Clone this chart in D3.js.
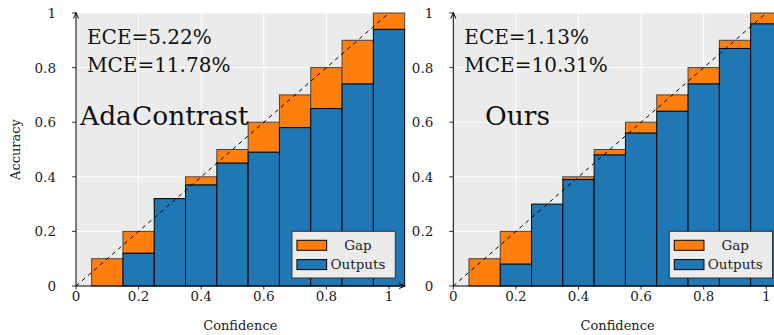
<!DOCTYPE html>
<html>
<head>
<meta charset="utf-8">
<script src="https://cdn.jsdelivr.net/npm/d3@7"></script>
<style>
  body { margin: 0; background: #fff; }
  svg { display: block; font-family: "DejaVu Serif", serif; }
</style>
</head>
<body>
<svg id="chart" width="774" height="335"></svg>
<script>
// Bin centres (expected accuracy) and observed accuracy per bin
const binCenters = [0.1, 0.2, 0.3, 0.4, 0.5, 0.6, 0.7, 0.8, 0.9, 1.0];
const adaOutputs = [0, 0.12, 0.32, 0.37, 0.45, 0.49, 0.58, 0.65, 0.74, 0.94];
const oursOutputs = [0, 0.08, 0.30, 0.39, 0.48, 0.56, 0.64, 0.74, 0.87, 0.96];
const xTicks = [0, 0.2, 0.4, 0.6, 0.8, 1];
const yTicks = [0, 0.2, 0.4, 0.6, 0.8, 1];
const legendLabels = ["Gap", "Outputs"];

const panels = [
  { name: "AdaContrast", outputs: adaOutputs, ece: "ECE=5.22%", mce: "MCE=11.78%", left: 76, nameX: 80 },
  { name: "Ours", outputs: oursOutputs, ece: "ECE=1.13%", mce: "MCE=10.31%", left: 453.3, nameX: 485 }
];

const unit = 313;
const binWidth = 0.1;
const orange = "#ff7f0e";
const blue = "#1f77b4";

const svg = d3.select("#chart");

const defs = svg.append("defs");
defs.append("marker")
  .attr("id", "arrow")
  .attr("viewBox", "0 0 8 8")
  .attr("refX", 7).attr("refY", 4)
  .attr("markerWidth", 8).attr("markerHeight", 8)
  .attr("markerUnits", "userSpaceOnUse")
  .attr("orient", "auto")
  .append("path")
  .attr("d", "M1,1.5 L7,4 L1,6.5")
  .attr("fill", "none")
  .attr("stroke", "#000")
  .attr("stroke-width", 1);

panels.forEach((p, i) => {
  const x = d3.scaleLinear().domain([0, 1.05]).range([p.left, p.left + 1.05 * unit]);
  const y = d3.scaleLinear().domain([0, 1]).range([286, 13]);
  const g = svg.append("g");

  // background
  g.append("rect")
    .attr("x", x(0)).attr("y", y(1))
    .attr("width", x(1.05) - x(0)).attr("height", y(0) - y(1))
    .attr("fill", "#ebebeb");

  // grid
  g.selectAll(".gx").data(xTicks.slice(1)).enter().append("line")
    .attr("x1", d => x(d)).attr("x2", d => x(d))
    .attr("y1", y(0)).attr("y2", y(1))
    .attr("stroke", "#fff").attr("stroke-width", 1);
  g.selectAll(".gy").data(yTicks.slice(1)).enter().append("line")
    .attr("x1", x(0)).attr("x2", x(1.05))
    .attr("y1", d => y(d)).attr("y2", d => y(d))
    .attr("stroke", "#fff").attr("stroke-width", 1);

  // gap bars
  g.selectAll(".gap").data(binCenters).enter().append("rect")
    .attr("x", d => x(d - binWidth / 2))
    .attr("width", x(binWidth) - x(0))
    .attr("y", (d, j) => y(Math.max(d, p.outputs[j])))
    .attr("height", (d, j) => Math.abs(y(p.outputs[j]) - y(d)))
    .attr("fill", orange)
    .attr("stroke", "#444").attr("stroke-width", 1);

  // output bars
  g.selectAll(".out").data(binCenters).enter().append("rect")
    .attr("x", d => x(d - binWidth / 2))
    .attr("width", x(binWidth) - x(0))
    .attr("y", (d, j) => y(p.outputs[j]))
    .attr("height", (d, j) => y(0) - y(p.outputs[j]))
    .attr("fill", blue)
    .attr("stroke", "#000").attr("stroke-width", 1);

  // diagonal
  g.append("line")
    .attr("x1", x(0)).attr("y1", y(0))
    .attr("x2", x(1)).attr("y2", y(1))
    .attr("stroke", "#000").attr("stroke-width", 1)
    .attr("stroke-dasharray", "4,4");

  // axes
  g.append("line")
    .attr("x1", x(0)).attr("y1", y(0)).attr("x2", x(0)).attr("y2", y(1) - 0.5)
    .attr("stroke", "#000").attr("stroke-width", 1)
    .attr("marker-end", "url(#arrow)");
  g.append("line")
    .attr("x1", x(0)).attr("y1", y(0)).attr("x2", x(1.05) + 0.5).attr("y2", y(0))
    .attr("stroke", "#000").attr("stroke-width", 1)
    .attr("marker-end", "url(#arrow)");

  // ticks and labels
  g.selectAll(".tx").data(xTicks).enter().append("line")
    .attr("x1", d => x(d)).attr("x2", d => x(d))
    .attr("y1", y(0)).attr("y2", y(0) + 3.5)
    .attr("stroke", "#000").attr("stroke-width", 0.8);
  g.selectAll(".lx").data(xTicks).enter().append("text")
    .attr("x", d => x(d)).attr("y", 301)
    .attr("text-anchor", "middle")
    .attr("font-size", 13.5).attr("fill", "#222")
    .text(d => d3.format("~g")(d));

  g.selectAll(".ty").data(yTicks).enter().append("line")
    .attr("x1", x(0) - 4).attr("x2", x(0))
    .attr("y1", d => y(d)).attr("y2", d => y(d))
    .attr("stroke", "#000").attr("stroke-width", 0.8);
  g.selectAll(".ly").data(yTicks).enter().append("text")
    .attr("x", x(0) - 20).attr("y", d => y(d) + 5)
    .attr("text-anchor", "end")
    .attr("font-size", 13.5).attr("fill", "#222")
    .text(d => d3.format("~g")(d));

  g.append("text")
    .attr("x", x(0.525)).attr("y", 330)
    .attr("text-anchor", "middle")
    .attr("font-size", 13).attr("fill", "#222")
    .text("Confidence");

  if (i === 0) {
    g.append("text")
      .attr("transform", `translate(20, ${(y(0) + y(1)) / 2}) rotate(-90)`)
      .attr("text-anchor", "middle")
      .attr("font-size", 13).attr("fill", "#222")
      .text("Accuracy");
  }

  // annotations
  g.append("text")
    .attr("x", x(0) + 11).attr("y", 44)
    .attr("font-size", 20).attr("fill", "#111")
    .text(p.ece);
  g.append("text")
    .attr("x", x(0) + 11).attr("y", 72)
    .attr("font-size", 20).attr("fill", "#111")
    .text(p.mce);
  g.append("text")
    .attr("x", p.nameX).attr("y", 125)
    .attr("font-size", 26.5).attr("fill", "#111")
    .text(p.name);

  // legend
  const lx = x(1.05) - 9.4 - 103.3;
  const ly = 231.3;
  const leg = g.append("g").attr("transform", `translate(${lx},${ly})`);
  leg.append("rect")
    .attr("width", 103.3).attr("height", 46.7)
    .attr("fill", "#ebebeb")
    .attr("stroke", "#333").attr("stroke-width", 1);
  const swatch = d3.scaleOrdinal().domain(legendLabels).range([orange, blue]);
  leg.selectAll(".sw").data(legendLabels).enter().append("rect")
    .attr("x", 5).attr("y", (d, j) => 9 + j * 19.3)
    .attr("width", 29.7).attr("height", 10)
    .attr("fill", d => swatch(d))
    .attr("stroke", "#000").attr("stroke-width", 1);
  leg.selectAll(".lt").data(legendLabels).enter().append("text")
    .attr("x", 66).attr("y", (d, j) => 18.5 + j * 19.3)
    .attr("text-anchor", "middle")
    .attr("font-size", 13.5).attr("fill", "#222")
    .text(d => d);
});
</script>
</body>
</html>
